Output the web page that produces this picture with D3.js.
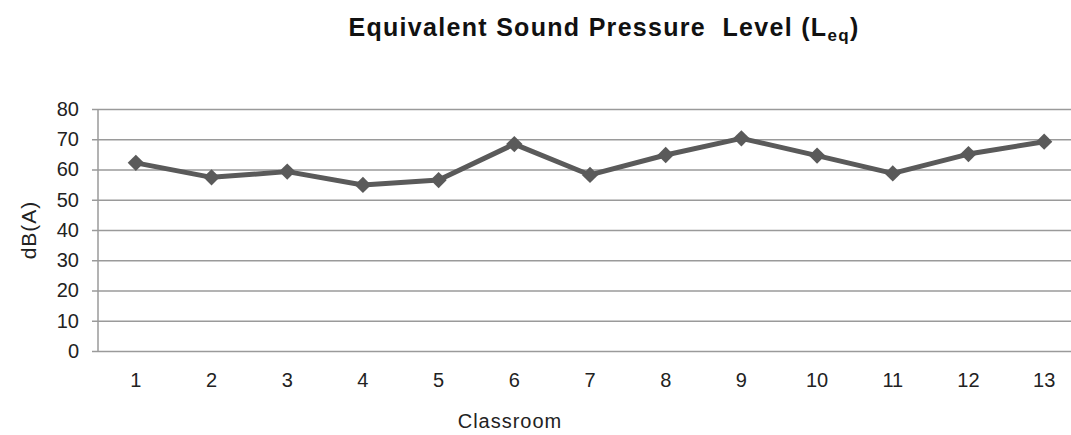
<!DOCTYPE html>
<html lang="en">
<head>
    <title>Leq</title>
    <script src="https://d3js.org/d3.v7.min.js"></script>
    <style>
        body { margin: 0; background: #fff; }
        * { font-family: "Liberation Sans", Arial, sans-serif; }
        .grid line { stroke: #9a9a9a; stroke-width: 1.5; }
        .tick text { fill: #222; font-size: 20px; }
    </style>
</head>
<body>
<svg class="line-chart"></svg>
<script>
const classrooms = ["1", "2", "3", "4", "5", "6", "7", "8", "9", "10", "11", "12", "13"];
const leq = [62.2, 57.4, 59.3, 54.9, 56.5, 68.4, 58.2, 64.8, 70.3, 64.6, 58.7, 65.1, 69.2];
const yTicks = [0, 10, 20, 30, 40, 50, 60, 70, 80];

const w = 1071, h = 435;
const margin = {top: 109, left: 98};
const plotH = 242;
const plotW = 984;

const svg = d3.select("svg.line-chart")
    .attr("width", w)
    .attr("height", h);

const x = d3.scaleBand().domain(classrooms).range([margin.left, margin.left + plotW]);
const y = d3.scaleLinear().domain([0, 80]).range([margin.top + plotH, margin.top]);

// gridlines + y axis labels
const ga = svg.append("g")
    .attr("class", "grid")
    .attr("transform", "translate(" + margin.left + ",0)")
    .call(d3.axisLeft(y).tickValues(yTicks).tickSize(-plotW).tickSizeOuter(0).tickPadding(19));
ga.select(".domain").remove();
ga.selectAll(".tick line").attr("x1", -6);

// vertical axis line
svg.append("line")
    .attr("x1", margin.left).attr("x2", margin.left)
    .attr("y1", y(80)).attr("y2", y(0))
    .attr("stroke", "#9a9a9a").attr("stroke-width", 1.5);

// x axis labels
const xa = svg.append("g")
    .attr("transform", "translate(0," + y(0) + ")")
    .call(d3.axisBottom(x).tickSize(0).tickPadding(22));
xa.select(".domain").remove();

// line
svg.append("path")
    .datum(leq)
    .attr("fill", "none")
    .attr("stroke", "#5a5a5a")
    .attr("stroke-width", 5)
    .attr("stroke-linejoin", "round")
    .attr("d", d3.line()
        .x((d, i) => x(classrooms[i]) + x.bandwidth() / 2)
        .y(d => y(d)));

// diamond markers
svg.append("g")
    .selectAll("path")
    .data(leq)
    .enter()
    .append("path")
    .attr("transform", (d, i) => "translate(" + (x(classrooms[i]) + x.bandwidth() / 2) + "," + y(d) + ")")
    .attr("d", d3.symbol().type(d3.symbolDiamond2).size(170))
    .attr("fill", "#5a5a5a");

// title
const title = svg.append("text")
    .attr("x", 604).attr("y", 36)
    .attr("text-anchor", "middle")
    .attr("font-size", 25).attr("font-weight", "bold")
    .attr("letter-spacing", 1.3)
    .style("white-space", "pre")
    .attr("fill", "#111");
title.append("tspan").text("Equivalent Sound Pressure  Level (L");
title.append("tspan").attr("font-size", 17).attr("dy", 5).text("eq");
title.append("tspan").attr("dy", -5).text(")");

// axis titles
svg.append("text")
    .attr("transform", "translate(36," + y(40) + ") rotate(-90)")
    .attr("text-anchor", "middle")
    .attr("font-size", 21).attr("fill", "#222")
    .attr("letter-spacing", 1)
    .text("dB(A)");

svg.append("text")
    .attr("x", 510).attr("y", 428)
    .attr("text-anchor", "middle")
    .attr("font-size", 20).attr("fill", "#222")
    .attr("letter-spacing", 1)
    .text("Classroom");
</script>
</body>
</html>
